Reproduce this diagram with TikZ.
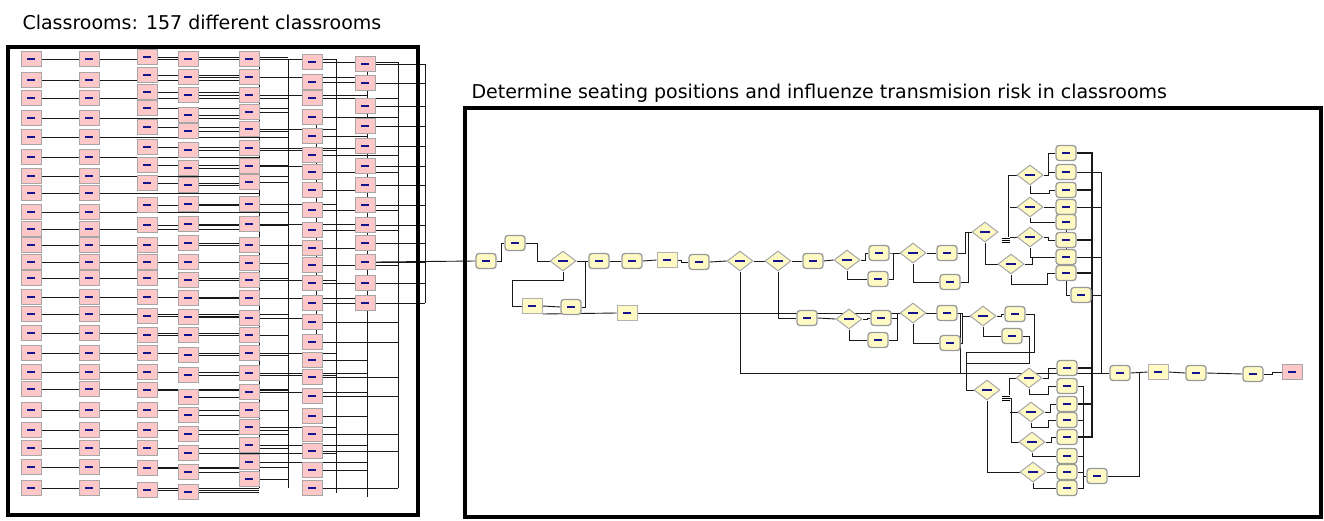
\documentclass[tikz,border=0pt]{standalone}
\usepackage{fontspec}
\setmainfont{DejaVu Sans}
\usetikzlibrary{calc,backgrounds,shapes.geometric}
\definecolor{roompink}{RGB}{255,200,200}
\definecolor{stepyellow}{RGB}{255,250,196}
\definecolor{labnavy}{RGB}{20,20,140}

\begin{document}
\begin{tikzpicture}[
  x=1pt, y=-1pt,
  lbl/.style={path picture={\fill[labnavy, sharp corners]
      ([xshift=-#1,yshift=-0.7pt]path picture bounding box.center) rectangle
      ([xshift=#1,yshift=0.7pt]path picture bounding box.center);}},
  room/.style={draw=black!35, line width=1pt, fill=roompink, minimum width=20pt, minimum height=15pt, inner sep=0pt, lbl=4pt},
  proc/.style={draw=black!40, line width=1.3pt, fill=stepyellow, rounded corners=3pt, minimum width=20pt, minimum height=15pt, inner sep=0pt, lbl=4pt},
  asgn/.style={draw=black!30, line width=1pt, fill=stepyellow, minimum width=20pt, minimum height=15pt, inner sep=0pt, lbl=4pt},
  dec/.style={diamond, draw=black!35, line width=1pt, fill=stepyellow, minimum width=26pt, minimum height=20pt, inner sep=0pt, lbl=5pt},
  nway/.style={fill=white, minimum width=8pt, minimum height=6pt, inner sep=0pt,
    path picture={\foreach \d in {-2,0,2}
      \draw[line width=0.6pt] ([yshift=\d pt]path picture bounding box.west) -- ([yshift=\d pt]path picture bounding box.east);}},
  link/.style={draw=black!90, line width=0.9pt},
  frame/.style={line width=4pt},
  title/.style={anchor=base west, font=\fontsize{19}{23}\selectfont},
  ]
  \useasboundingbox (0,0) rectangle (1324,520);

  % titles
  \node[title] (tl) at (19,29) {Classrooms: 157 different classrooms};
  \node[title] (tr) at (468,98) {Determine seating positions and influenze transmision risk in classrooms};

  % collecting buses on the right of the classroom block
  \foreach \k/\bx/\ya/\yb in {1/259/59/488, 2/288/59/488, 3/316/117/337, 4/336/59/493,
      5/367/59/497, 6/398/62/488, 7/425/64/303}{
    \coordinate (b\k-t) at (\bx,\ya);
    \coordinate (b\k-b) at (\bx,\yb);
    \begin{pgfonlayer}{background}
      \draw[link] (b\k-t) -- (b\k-b);
    \end{pgfonlayer}
  }

  % classroom columns: x / rows / buses
  \foreach \cx/\rows/\bs [count=\c] in {
      31/{59,80,98,118,137,157,176,193,212,229,245,262,278,297,314,333,353,372,389,410,430,448,467,488}/{{1,2}},
      89/{59,80,98,118,137,157,176,193,212,229,245,262,278,297,314,333,353,372,389,410,430,448,467,488}/{{1,1}},
      147/{57,75,92,108,127,147,165,183,205,225,245,262,278,297,316,335,353,372,390,410,430,448,468,490}/{{1,2,1}},
      188/{59,77,95,115,131,150,168,185,204,224,243,262,280,298,317,335,355,375,397,415,434,453,472,492}/{{1,2,4,1}},
      249/{59,77,95,112,129,148,166,182,204,224,245,263,280,298,318,335,353,373,392,410,427,445,462,479}/{{2,4,5,3}},
      312/{62,82,98,117,136,155,172,190,210,230,248,265,283,303,322,342,360,377,396,416,434,451,470,488}/{{6,6,5}},
      365/{64,83,106,126,146,166,185,205,225,243,262,283,303}/{{7,7}}%
    }{
    \foreach \ry [count=\i] in \rows {
      \node[room] (l\c-\i) at (\cx,\ry) {};
      \pgfmathtruncatemacro\k{\bs[mod(\i,dim(\bs))]}
      \pgfmathtruncatemacro\k{((\k==3) && ((\ry>337) || (\ry<117))) ? 5 : \k}
      \begin{pgfonlayer}{background}
        \draw[link] (l\c-\i.east) -- (l\c-\i.east -| b\k-t);
      \end{pgfonlayer}
    }
  }

  % seating flow, upper part
  \node[proc] (n1) at (486,261) {};
  \node[proc] (n2) at (515,243) {};
  \node[dec] (d1) at (563,261) {};
  \node[proc] (n3) at (599,261) {};
  \node[asgn] (n4) at (532,306) {};
  \node[proc] (n5) at (571,307) {};
  \node[asgn] (n6) at (627,313) {};
  \node[proc] (n7) at (632,261) {};
  \node[asgn] (n8) at (667,260) {};
  \node[proc] (n9) at (699,262) {};
  \node[dec] (d2) at (740,261) {};
  \node[dec] (d3) at (778,261) {};
  \node[proc] (n10) at (813,261) {};
  \node[dec] (d4) at (847,260) {};
  \node[proc] (n11) at (879,253) {};
  \node[proc] (n12) at (878,279) {};
  \node[dec] (d5) at (913,253) {};
  \node[proc] (n13) at (947,253) {};
  \node[proc] (n14) at (950,282) {};
  \node[dec] (d6) at (985,232) {};
  \node[dec] (d7) at (1011,264) {};
  \node[nway] (br1) at (1006,240) {};
  \node[dec] (d8) at (1030,175) {};
  \node[dec] (d9) at (1030,207) {};
  \node[dec] (d10) at (1030,237) {};
  \foreach \uy [count=\i] in {153,172,190,207,222,240,257,273}
    \node[proc] (u\i) at (1066,\uy) {};
  \node[proc] (u9) at (1081,295) {};

  % middle branch
  \node[proc] (n15) at (807,318) {};
  \node[dec] (d11) at (849,319) {};
  \node[proc] (n16) at (881,318) {};
  \node[proc] (n17) at (878,340) {};
  \node[dec] (d12) at (913,313) {};
  \node[proc] (n18) at (947,313) {};
  \node[proc] (n19) at (950,343) {};
  \node[dec] (d13) at (983,316) {};
  \node[proc] (n20) at (1015,314) {};
  \node[proc] (n21) at (1012,336) {};

  % lower part
  \node[dec] (d14) at (987,390) {};
  \node[nway] (br2) at (1006,398) {};
  \node[dec] (d15) at (1029,378) {};
  \node[dec] (d16) at (1031,412) {};
  \node[dec] (d17) at (1032,442) {};
  \node[dec] (d18) at (1033,472) {};
  \foreach \wy [count=\i] in {368,386,404,420,437,456,472,488}
    \node[proc] (w\i) at (1067,\wy) {};
  \node[proc] (n22) at (1097,476) {};

  % output row
  \node[proc] (f1) at (1120,373) {};
  \node[asgn] (f2) at (1158,372) {};
  \node[proc] (f3) at (1196,373) {};
  \node[proc] (f4) at (1253,374) {};
  \node[room] (f5) at (1292,372) {};

  \coordinate (trunk) at (1092,373);
  \coordinate (trunk2) at (1101,373);
  \coordinate (drop) at (960,373);
  \coordinate (m1) at (966,352);
  \coordinate (m2) at (966,363);
  \coordinate (wj) at (1083,476);

  \begin{scope}[on background layer, every path/.style={link}]
    \draw (l7-11.east) -- (n1.west);
    \draw (n1.east) -- +(5,0) |- (n2.west);
    \draw (n2.east) -- +(12,0) |- (d1.west);
    \draw (d1.east) -- (n3.west);
    \draw (d1.south) -- +(0,9) -| ($(n4.west)+(-9,0)$) -- (n4.west);
    \draw (n4.east) -- (n5.west);
    \draw (n5.east) -- +(4,0) |- (n3.west);
    \draw (n4.south east) -- (n6.west);
    \draw (n6.east) -| (drop);
    \draw (n3.east) -- (n7.west);
    \draw (n7.east) -- (n8.west);
    \draw (n8.east) -- +(4,0) |- (n9.west);
    \draw (n9.east) -- (d2.west);
    \draw (d2.east) -- (d3.west);
    \draw (d2.south) |- (trunk);
    \draw (d3.east) -- (n10.west);
    \draw (d3.south) |- (n15.west);
    \draw (n10.east) -- (d4.west);
    \draw (d4.east) -- +(5,0) |- (n11.west);
    \draw (d4.south) |- (n12.west);
    \draw (n11.east) -- +(5,0) |- (d5.west);
    \draw (n12.east) -- +(5,0) |- (d5.west);
    \draw (d5.east) -- (n13.west);
    \draw (d5.south) |- (n14.west);
    \draw (n13.east) -- +(8,0) |- (d6.west);
    \draw (n14.east) -- +(8,0) |- (d6.west);
    \draw (d6.south) |- (d7.west);
    \draw (d8.west) -- +(-8,0) |- (br1.east);
    \draw (d9.west) -- (d9.west -| br1.east);
    \draw (d10.west) -- (d10.west -| br1.east);
    \draw (d7.east) -- +(8,0) |- (u7.west);
    \draw (d7.south) -- +(0,10) -| ($(u8.west)+(-8,0)$) -- (u8.west);
    \draw (d8.east) -- +(5,0) |- (u1.west);
    \draw (d8.east) -- +(5,0) |- (u2.west);
    \draw (d8.south) -- +(0,8) -| ($(u3.west)+(-6,0)$) -- (u3.west);
    \draw (d9.east) -- (u4.west);
    \draw (d9.south) |- (u5.west);
    \draw (d10.east) -- +(5,0) |- (u6.west);
    \draw (d10.south) |- (u7.west);
    \foreach \i in {1,3,6,8} \draw[line width=1.6pt] (u\i.east) -| (trunk);
    \foreach \i in {2,4,7} \draw (u\i.east) -| (trunk2);
    \draw (u5.south) |- (u9.west);
    \draw (u9.east) -| (trunk2);
    % middle branch
    \draw (n15.east) -- (d11.west);
    \draw (d11.east) -- +(5,0) |- (n16.west);
    \draw (d11.south) |- (n17.west);
    \draw (n16.east) -- +(6,0) |- (d12.west);
    \draw (n17.east) -- +(9,0) |- (d12.west);
    \draw (d12.east) -- (n18.west);
    \draw (d12.south) |- (n19.west);
    \draw (n18.east) -- +(5,0) |- (d13.west);
    \draw (n19.east) -- +(2,0) |- (d13.west);
    \draw (d13.east) -- +(5,0) |- (n20.west);
    \draw (d13.south) |- (n21.west);
    \draw (n20.east) -- +(9,0) |- (m1) |- (d14.west);
    \draw (n21.east) -- +(7,0) |- (m2);
    % lower part
    \draw (d15.west) -- +(-6,0) |- (br2.east);
    \draw (d17.west) -- +(-7,0) |- (br2.east);
    \draw (d16.west) -- (d16.west -| br2.east);
    \draw (d14.south) |- (d18.west);
    \draw (d15.east) -- +(6,0) |- (w1.west);
    \draw (d15.south) -- +(0,6) -| ($(w2.west)+(-8,0)$) -- (w2.west);
    \draw (d16.east) -- +(6,0) |- (w3.west);
    \draw (d16.south) -- +(0,5) -| ($(w4.west)+(-8,0)$) -- (w4.west);
    \draw (d17.east) -- +(6,0) |- (w5.west);
    \draw (d17.south) |- (w6.west);
    \draw (d18.east) -- (w7.west);
    \draw (d18.south) |- (w8.west);
    \foreach \i in {1,3,5} \draw[line width=1.6pt] (w\i.east) -| (trunk);
    \foreach \i in {2,4,6,7,8} \draw (w\i.east) -| (wj);
    \draw (wj) -- (n22.west);
    \draw (n22.east) -| ($(f1.east)!0.5!(f2.west)$);
    % output row
    \draw (trunk) -- (f1.west);
    \draw (f1.east) -- (f2.west);
    \draw (f2.east) -- (f3.west);
    \draw (f3.east) -- (f4.west);
    \draw (f4.east) -- +(9,0) |- (f5.west);
  \end{scope}

  % frames
  \draw[frame] (8,47) rectangle (418,515);
  \draw[frame] (465,108) rectangle (1321,517);
\end{tikzpicture}
\end{document}
